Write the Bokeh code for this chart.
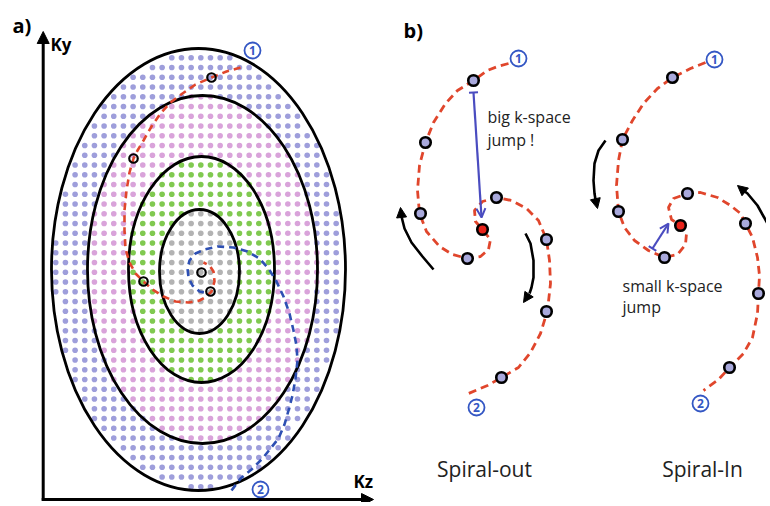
import numpy as np
from bokeh.plotting import figure
from bokeh.models import Range1d, Arrow, NormalHead, OpenHead, TeeHead
from bokeh.core.properties import value
from bokeh.embed import file_html
from bokeh.resources import INLINE

# ---------------- panel a : k-space ellipses (outer -> inner) ----------------
ELL_CX = [198, 202, 201, 199]
ELL_CY = [269, 269, 269, 271]
ELL_W = [294, 230, 146, 80]
ELL_H = [442, 348, 226, 124]
RING_COLORS = ["#9e9edb", "#d9a3da", "#80c950", "#b3b3b3"]

GRID_X0, GRID_Y0 = 200.3, 271.7
GRID_DX, GRID_DY = 9.67, 9.75

RED_A_X = [240, 226, 211, 195, 182, 170, 160, 151, 143, 137, 133, 129, 126, 124, 124,
           125, 129, 135, 143, 152, 163, 175, 188, 199, 206, 211, 214, 213, 209, 203]
RED_A_Y = [67, 71, 77, 84, 93, 102, 113, 126, 140, 150, 158, 172, 190, 210, 230,
           248, 262, 273, 281, 289, 296, 301, 302, 300, 296, 291, 281, 271, 265, 262]

BLUE_A_X = [231, 240, 251, 262, 270, 278, 284, 288, 292, 295, 297, 296, 293, 289, 283,
            276, 268, 259, 247, 233, 217, 204, 195, 189, 187, 188, 192, 199, 204]
BLUE_A_Y = [490, 478, 469, 458, 448, 438, 424, 410, 395, 378, 360, 345, 330, 313, 296,
            281, 268, 258, 251, 247, 246, 249, 253, 260, 268, 277, 285, 291, 292]

A_SAMPLES_X = [211, 133, 143, 201, 210]
A_SAMPLES_Y = [77, 158, 281, 272, 291]

NUM_X = [252, 260, 518, 476, 714, 700]
NUM_Y = [50, 489, 58, 407, 59, 403]
NUM_TXT = ["1", "2", "1", "2", "1", "2"]

# ---------------- panel b : spiral-out / spiral-in ----------------
OUT_X = [508, 497, 487, 473, 457, 445, 433, 425, 419, 417, 419, 426, 439, 452, 467, 480,
         488, 490, 482, 475, 474, 482, 496, 511, 526, 538, 546, 549, 550, 547, 540, 530,
         518, 501, 487, 468]
OUT_Y = [63, 66, 70, 80, 90, 103, 122, 142, 165, 190, 213, 231, 246, 254, 258, 256,
         249, 239, 229, 221, 210, 201, 197, 200, 208, 220, 239, 260, 283, 310, 333, 352,
         367, 377, 385, 393]
OUT_DOT_X = [473, 425, 420, 467, 496, 546, 546, 501]
OUT_DOT_Y = [80, 142, 213, 258, 197, 239, 311, 377]
OUT_CENTER = (482, 229)

IN_X = [705, 690, 672, 657, 643, 632, 622, 618, 616, 618, 624, 634, 648, 664, 677, 685,
        686, 680, 671, 668, 673, 687, 700, 717, 730, 740, 745, 752, 757, 759, 758, 757,
        752, 743, 730, 718, 703]
IN_Y = [62, 68, 77, 88, 103, 120, 139, 160, 185, 211, 227, 240, 250, 257, 254, 244,
        233, 225, 219, 207, 198, 193, 192, 197, 205, 213, 223, 237, 257, 275, 293, 313,
        337, 353, 366, 379, 390]
IN_DOT_X = [672, 622, 618, 664, 687, 745, 758, 729]
IN_DOT_Y = [77, 139, 211, 257, 193, 223, 293, 367]
IN_CENTER = (680, 225)

ARROWS = [
    ([433, 422, 411, 404, 401], [269, 256, 242, 228, 216], (400, 207)),
    ([525, 530, 533, 533, 531, 529], [233, 243, 260, 277, 287, 293], (523, 302)),
    ([605, 598, 594, 593, 594, 595], [140, 150, 163, 180, 193, 199], (597, 208)),
    ([775, 770, 767, 757, 747, 743], [245, 233, 223, 205, 193, 190], (737, 185)),
]
JUMPS = [((473, 92), (481, 217)), ((652, 248), (668, 223))]

RED = "#e0462c"
BLUE = "#2d4fb3"
JUMP_BLUE = "#4a4cc0"
NUM_BLUE = "#3457c4"
LAV = "#a9a9dc"
FONT = value("Open Sans")

W, H = 766, 502
p = figure(width=W, height=H, x_range=Range1d(0, W), y_range=Range1d(H, 0),
           output_backend="svg", toolbar_location=None, min_border=0)
p.axis.visible = False
p.grid.visible = False
p.outline_line_color = None
p.background_fill_color = "white"

# dots grid coloured by ring
def e_val(x, y, i, shrink=0.0):
    a = ELL_W[i] / 2 - shrink
    b = ELL_H[i] / 2 - shrink
    return ((x - ELL_CX[i]) / a) ** 2 + ((y - ELL_CY[i]) / b) ** 2

gx = GRID_X0 + GRID_DX * np.arange(-17, 18)
gy = GRID_Y0 + GRID_DY * np.arange(-24, 25)
dx, dy, dc = [], [], []
for x in gx:
    for y in gy:
        if e_val(x, y, 0, 3.0) > 1:
            continue
        if e_val(x, y, 3) < 1:
            c = RING_COLORS[3]
        elif e_val(x, y, 2) < 1:
            c = RING_COLORS[2]
        elif e_val(x, y, 1) < 1:
            c = RING_COLORS[1]
        else:
            c = RING_COLORS[0]
        dx.append(x); dy.append(y); dc.append(c)
p.scatter(dx, dy, size=5.6, fill_color=dc, line_color=None)

p.ellipse(x=ELL_CX, y=ELL_CY, width=ELL_W, height=ELL_H, fill_alpha=0,
          line_color="black", line_width=2.8)

p.line(RED_A_X, RED_A_Y, line_color=RED, line_width=2.6, line_dash="7 5")
p.line(BLUE_A_X, BLUE_A_Y, line_color=BLUE, line_width=2.6, line_dash="7 5")
p.scatter(A_SAMPLES_X, A_SAMPLES_Y, size=8.5, fill_alpha=0, line_color="black", line_width=2.2)

# axes
p.add_layout(Arrow(end=NormalHead(size=12, fill_color="black", line_color="black"),
                   x_start=42.7, y_start=500, x_end=42.7, y_end=31, line_width=3))
p.add_layout(Arrow(end=NormalHead(size=12, fill_color="black", line_color="black"),
                   x_start=41.2, y_start=499, x_end=373, y_end=499, line_width=3))

# panel b spirals
p.line(OUT_X, OUT_Y, line_color=RED, line_width=2.8, line_dash="8 5")
p.line(IN_X, IN_Y, line_color=RED, line_width=2.8, line_dash="8 5")
p.scatter(OUT_DOT_X + IN_DOT_X, OUT_DOT_Y + IN_DOT_Y, size=10.5, fill_color=LAV,
          line_color="black", line_width=2.6)
p.scatter([OUT_CENTER[0], IN_CENTER[0]], [OUT_CENTER[1], IN_CENTER[1]], size=10.5,
          fill_color="#e8231b", line_color="black", line_width=2.6)

# curved black arrows
for xs, ys, tip in ARROWS:
    p.line(xs, ys, line_color="black", line_width=2.6)
    p.add_layout(Arrow(end=NormalHead(size=10, fill_color="black", line_color="black"),
                       x_start=xs[-1], y_start=ys[-1], x_end=tip[0], y_end=tip[1],
                       line_alpha=0))

# blue k-space jumps
for (s, e) in JUMPS:
    p.add_layout(Arrow(start=TeeHead(size=9, line_color=JUMP_BLUE, line_width=2),
                       end=OpenHead(size=9, line_color=JUMP_BLUE, line_width=2),
                       x_start=s[0], y_start=s[1], x_end=e[0], y_end=e[1],
                       line_color=JUMP_BLUE, line_width=2.2))

# numbered circles
p.scatter(NUM_X, NUM_Y, size=16, fill_color="white", line_color=NUM_BLUE, line_width=1.8)
p.text(NUM_X, NUM_Y, text=NUM_TXT, text_align="center", text_baseline="middle",
       text_font=FONT, text_font_size=value("12px"), text_font_style="bold",
       text_color=NUM_BLUE)

# labels
p.text([12, 403], [25, 30], text=["a)", "b)"], text_font=FONT,
       text_font_size=value("20px"), text_font_style="bold", text_color="black",
       text_baseline="alphabetic")
p.text([50, 353], [44, 481], text=["Ky", "Kz"], text_font=FONT,
       text_font_size=value("17px"), text_font_style="bold", text_color="black",
       text_baseline="alphabetic")
p.text([487, 487, 622, 622], [116, 139, 285, 306],
       text=["big k-space", "jump !", "small k-space", "jump"], text_font=FONT,
       text_font_size=value("16px"), text_color="#222222", text_baseline="alphabetic")
p.text([484, 702], [468, 468], text=["Spiral-out", "Spiral-In"], text_font=FONT,
       text_font_size=value("21px"), text_color="#222222", text_align="center",
       text_baseline="alphabetic")

open("out.html", "w").write(file_html(p, INLINE))
